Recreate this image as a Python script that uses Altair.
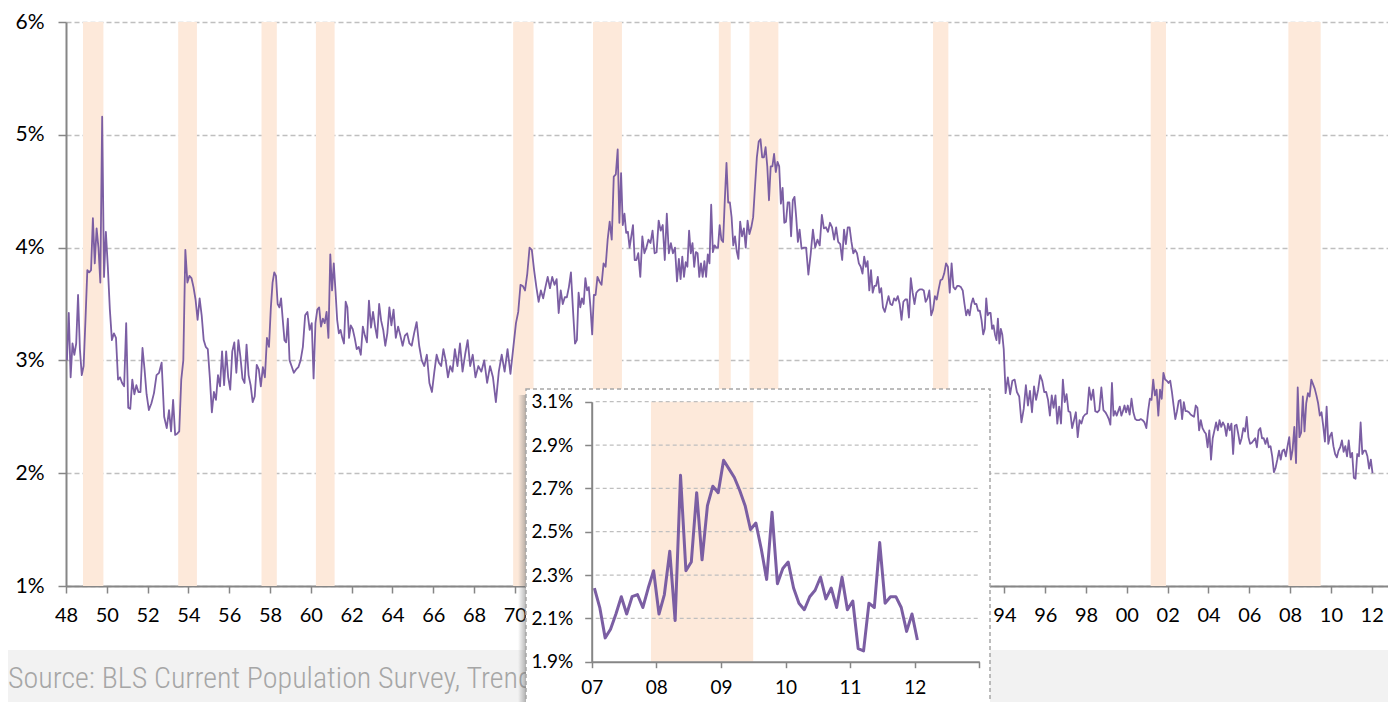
import altair as alt
import pandas as pd

# ---------------- data ----------------
# values observed within each calendar year, in order
y1948_1959 = [
    [3.0, 3.42, 2.85, 3.15, 3.05, 3.15, 3.58, 3.1, 2.87, 2.95, 3.36],
    [3.8, 3.78, 3.8, 4.26, 3.86, 4.17, 4.0, 3.69, 5.16, 3.74, 4.14],
    [3.83, 3.45, 3.18, 3.24, 3.2, 2.83, 2.85, 2.8, 2.77, 3.33],
    [2.58, 2.57, 2.83, 2.7, 2.78, 2.72, 2.72, 3.11, 2.92, 2.7],
    [2.56, 2.62, 2.71, 2.87, 2.89, 2.98, 2.5, 2.4],
    [2.56, 2.37, 2.65, 2.34, 2.35, 2.37, 2.83, 3.0, 3.98, 3.69],
    [3.75, 3.73, 3.65, 3.54, 3.36, 3.55, 3.4, 3.18, 3.12, 3.1],
    [2.85, 2.54, 2.72, 2.65, 2.87, 2.77, 3.08, 2.78, 3.08, 2.85],
    [2.74, 3.08, 3.16, 2.89, 3.18, 3.03, 2.84, 2.8, 3.14, 2.87],
    [2.78, 2.63, 2.68, 2.96, 2.92, 2.77, 2.94, 2.85, 3.2, 3.12],
    [3.47, 3.69, 3.78, 3.75, 3.5, 3.47, 3.55, 3.36, 3.18, 3.16, 3.37, 3.0],
    [2.95, 2.89, 2.92, 2.94, 3.0, 3.12, 3.4, 3.43, 3.27],
]
y1960_1969 = [
    [3.33, 2.84, 3.33, 3.45, 3.47, 3.3, 3.37, 3.33, 3.43, 3.2, 3.94],
    [3.62, 3.86, 3.62, 3.36, 3.24, 3.27, 3.2, 3.15, 3.52, 3.47, 3.2, 3.31],
    [3.28, 3.2, 3.1, 3.12, 3.05, 3.3, 3.22, 3.16, 3.53, 3.29],
    [3.43, 3.3, 3.2, 3.5, 3.35, 3.27, 3.13, 3.24, 3.47, 3.31],
    [3.45, 3.2, 3.3, 3.22, 3.13, 3.22, 3.24, 3.15, 3.13],
    [3.24, 3.34, 3.13, 3.0, 2.95, 3.05, 2.8, 2.72],
    [2.9, 3.05, 2.98, 2.95, 3.1, 3.0, 2.85, 2.95, 2.9],
    [3.1, 2.95, 3.15, 2.9, 3.05, 3.18, 2.95, 3.05],
    [2.85, 2.95, 2.9, 3.0, 2.8, 2.95, 2.85],
    [2.63, 2.9, 3.05, 2.9, 3.1, 2.88, 3.12],
]
y1970_1979 = [
    [3.33, 3.43, 3.67, 3.66, 3.62, 3.77, 4.0, 3.98, 3.8],
    [3.65, 3.52, 3.62, 3.55, 3.65, 3.74, 3.64, 3.74, 3.67],
    [3.72, 3.42, 3.62, 3.5, 3.56, 3.56, 3.65, 3.78, 3.45, 3.15],
    [3.18, 3.6, 3.47, 3.55, 3.5, 3.73, 3.62, 3.65, 3.47, 3.23, 3.58, 3.58],
    [3.74, 3.7, 3.67, 3.86, 3.83, 4.07, 4.23, 4.07, 4.63, 4.65],
    [4.87, 4.22, 4.66, 4.2, 4.3, 4.13, 4.14, 4.0, 4.1, 4.2, 3.89, 3.89],
    [3.95, 3.74, 4.1, 3.95, 4.0, 4.07, 4.04, 4.15, 3.95, 3.96],
    [4.24, 4.15, 4.2, 3.89, 4.3, 3.95, 4.04, 3.95, 4.0, 3.7],
    [3.9, 3.72, 3.92, 3.74, 3.87, 3.83, 4.15, 3.95, 4.04, 3.83, 3.96, 3.95],
    [3.74, 3.86, 3.74, 3.88, 3.74, 3.94, 3.86, 4.38, 3.96, 4.02, 4.0, 4.0],
]
y1980_1989 = [
    [4.2, 4.07, 4.05, 4.42, 4.75, 4.4, 4.4, 4.27, 4.02, 4.1, 3.97, 3.9],
    [4.23, 4.1, 4.17, 4.0, 4.24, 4.12, 4.18, 4.27, 4.54, 4.8, 4.94],
    [4.96, 4.8, 4.8, 4.89, 4.72, 4.42, 4.72, 4.72, 4.83, 4.67, 4.76, 4.72],
    [4.39, 4.53, 4.22, 4.23, 4.4, 4.4, 4.1, 4.42, 4.45, 4.27, 4.05, 4.16],
    [3.99, 4.0, 4.0, 3.76, 3.94, 4.16, 4.0, 4.07, 4.02],
    [4.29, 4.17, 4.18, 4.14, 4.22, 4.18, 4.07, 4.18, 4.05, 4.03],
    [3.89, 4.16, 4.03, 4.18, 4.18, 4.05, 3.95, 3.98, 3.95, 3.86, 3.83],
    [3.77, 3.92, 3.83, 3.88, 3.62, 3.8, 3.6, 3.66, 3.66, 3.74, 3.6, 3.64],
    [3.47, 3.43, 3.5, 3.57, 3.5, 3.49, 3.55, 3.53, 3.57, 3.5, 3.36],
    [3.52, 3.54, 3.54, 3.38, 3.73, 3.6, 3.5, 3.6, 3.62, 3.63, 3.63],
]
y1990_1999 = [
    [3.62, 3.52, 3.55, 3.62, 3.4, 3.45, 3.57, 3.54, 3.63, 3.71, 3.72],
    [3.77, 3.86, 3.83, 3.6, 3.86, 3.65, 3.63, 3.66, 3.66, 3.65, 3.62],
    [3.5, 3.4, 3.45, 3.4, 3.5, 3.55, 3.5, 3.5, 3.44, 3.44, 3.36, 3.23],
    [3.28, 3.55, 3.4, 3.42, 3.42, 3.28, 3.31, 3.23, 3.18, 3.37, 3.15, 3.28, 3.23, 3.1],
    [2.71, 2.85, 2.7, 2.82, 2.83, 2.72, 2.68, 2.45, 2.57],
    [2.78, 2.6, 2.73, 2.54, 2.77, 2.65, 2.74, 2.87, 2.82, 2.72],
    [2.72, 2.65, 2.51, 2.69, 2.58, 2.69, 2.44, 2.59, 2.44, 2.83, 2.63],
    [2.7, 2.55, 2.54, 2.4, 2.47, 2.54, 2.32, 2.47, 2.44, 2.5, 2.52],
    [2.53, 2.76, 2.65, 2.74, 2.55, 2.54, 2.56, 2.76, 2.56, 2.54],
    [2.51, 2.48, 2.43, 2.8, 2.51, 2.55, 2.51, 2.55, 2.59, 2.51, 2.55, 2.6, 2.54],
]
y2000_2006 = [
    [2.6, 2.52, 2.66, 2.54, 2.48, 2.47, 2.47, 2.48, 2.47, 2.45, 2.4],
    [2.55, 2.66, 2.65, 2.83, 2.69, 2.74, 2.51, 2.74, 2.66, 2.89, 2.83, 2.82],
    [2.8, 2.82, 2.72, 2.6, 2.48, 2.55, 2.64, 2.65, 2.48, 2.63, 2.55, 2.55],
    [2.54, 2.52, 2.51, 2.5, 2.6, 2.58, 2.38, 2.47, 2.4, 2.37, 2.35, 2.23],
    [2.38, 2.12, 2.31, 2.38, 2.45, 2.38, 2.47, 2.41, 2.45, 2.42, 2.33, 2.44],
    [2.38, 2.44, 2.17, 2.42, 2.43, 2.35, 2.26, 2.31, 2.4, 2.37, 2.5, 2.32],
    [2.26, 2.27, 2.29, 2.31, 2.23, 2.38, 2.4, 2.31, 2.31, 2.26, 2.31, 2.23],
]
# monthly values (inset)
m2007 = [2.24, 2.15, 2.01, 2.05, 2.12, 2.20, 2.12, 2.20, 2.21, 2.15, 2.24, 2.32]
m2008 = [2.12, 2.21, 2.41, 2.09, 2.76, 2.32, 2.36, 2.68, 2.37, 2.62, 2.71, 2.68]
m2009 = [2.83, 2.79, 2.75, 2.69, 2.62, 2.51, 2.54, 2.42, 2.28, 2.59, 2.26, 2.33]
m2010 = [2.36, 2.24, 2.17, 2.14, 2.20, 2.23, 2.29, 2.19, 2.24, 2.15, 2.29, 2.14]
m2011 = [2.18, 1.96, 1.95, 2.17, 2.15, 2.45, 2.17, 2.20, 2.20, 2.15, 2.04, 2.12]
m2012 = [2.00]

# recessions (decimal years)
rec_start = [1948.833, 1953.5, 1957.583, 1960.25, 1969.917, 1973.833,
             1980.0, 1981.5, 1990.5, 2001.167, 2007.917]
rec_end = [1949.833, 1954.417, 1958.333, 1961.167, 1970.917, 1975.25,
           1980.583, 1982.917, 1991.25, 2001.917, 2009.5]

main_y_ticks = [1, 2, 3, 4, 5, 6]
main_x_ticks = list(range(1948, 2013, 2))
inset_y_ticks = [1.9, 2.1, 2.3, 2.5, 2.7, 2.9, 3.1]
inset_x_ticks = [2007, 2008, 2009, 2010, 2011, 2012, 2013]
SOURCE = "Source: BLS Current Population Survey, Trend"

# ---------------- build tables ----------------
rows = []
for start, block in [(1948, y1948_1959), (1960, y1960_1969), (1970, y1970_1979),
                     (1980, y1980_1989), (1990, y1990_1999), (2000, y2000_2006)]:
    for k, vals in enumerate(block):
        n = len(vals)
        for i, v in enumerate(vals):
            rows.append({"date": start + k + (i + 0.5) / n, "value": v})
for yr, vals in [(2007, m2007), (2008, m2008), (2009, m2009), (2010, m2010),
                 (2011, m2011), (2012, m2012)]:
    for i, v in enumerate(vals):
        rows.append({"date": yr + (i + 0.5) / 12, "value": v})
df = pd.DataFrame(rows)
inset_df = df[df["date"] >= 2007].copy()
rec_df = pd.DataFrame({"start": rec_start, "end": rec_end})
inset_rec_df = rec_df[rec_df["end"] > 2007].copy()
grid_df = pd.DataFrame({"tick": inset_y_ticks[1:]})
src_df = pd.DataFrame({"label": [SOURCE]})
one = alt.Data(values=[{"k": 0}])

# ---------------- layout / style ----------------
W, H = 1322, 564
IX0, IX1 = 525.7, 913.3       # inset plot x range (px)
IY0, IY1 = 379.7, 639.7       # inset plot y range (top, bottom)
BX0, BX1, BY0, BY1 = 460, 924, 367, 730   # inset frame
PURPLE = "#7b5ea3"
SHADE = "#fde9da"
GRID = "#bfbfbf"
AX = "#868686"
FONT = "Lato"

twodig = "(datum.value % 100 < 10 ? '0' : '') + (datum.value % 100)"
# labels 72..92 sit under the inset frame and are not visible in the original
main_xlab = "(datum.value > 1971 && datum.value < 1993) ? '' : " + twodig

main_x = alt.Scale(domain=[1948, 2012.8], nice=False, zero=False)
main_y = alt.Scale(domain=[1, 6], nice=False, zero=False)
inset_x = alt.Scale(domain=[2007, 2013], range=[IX0, IX1], nice=False, zero=False)
inset_y = alt.Scale(domain=[1.9, 3.1], range=[IY1, IY0], nice=False, zero=False)

rec = alt.Chart(rec_df).mark_rect(color=SHADE).encode(
    x=alt.X("start:Q", scale=main_x, axis=None),
    x2="end:Q",
    y=alt.value(0), y2=alt.value(H),
)

main_line = alt.Chart(df).mark_line(color=PURPLE, strokeWidth=1.8, strokeJoin="round").encode(
    x=alt.X("date:Q", scale=main_x, axis=alt.Axis(
        values=main_x_ticks, labelExpr=main_xlab, title=None, grid=False,
        domainColor=AX, domainWidth=2, tickColor=AX, tickWidth=1.5, tickSize=7,
        labelFontSize=20, labelFont=FONT, labelColor="#000000", labelPadding=12,
        labelFlush=False, labelOverlap=False)),
    y=alt.Y("value:Q", scale=main_y, axis=alt.Axis(
        values=main_y_ticks, labelExpr="datum.value + '%'", title=None, grid=True,
        gridDash=[5, 3], gridColor=GRID, gridWidth=1.3,
        domainColor=AX, domainWidth=2, tickColor=AX, tickWidth=1.5, tickSize=8,
        labelFontSize=21, labelFont=FONT, labelColor="#000000", labelPadding=14,
        labelOverlap=False)),
)

band = alt.Chart(one).mark_rect(color="#f2f2f2").encode(
    x=alt.value(-60), x2=alt.value(W + 20), y=alt.value(628), y2=alt.value(700))

src = alt.Chart(src_df).mark_text(
    align="left", baseline="alphabetic", fontSize=30, fontWeight=300,
    font="Roboto Condensed, Liberation Sans Narrow, Arial Narrow, Roboto",
    color="#a6a6a6").encode(x=alt.value(-58), y=alt.value(666), text="label:N")

shadow = alt.Chart(one).mark_rect(
    fill=alt.LinearGradient(gradient="linear", x1=0, x2=1, y1=0, y2=0, stops=[
        alt.GradientStop(color="rgba(110,110,110,0)", offset=0),
        alt.GradientStop(color="rgba(110,110,110,0.5)", offset=1)])
).encode(x=alt.value(BX0 - 8), x2=alt.value(BX0), y=alt.value(BY0 + 6), y2=alt.value(BY1))

box = alt.Chart(one).mark_rect(fill="white", stroke="#a6a6a6", strokeDash=[4, 3],
                               strokeWidth=1.5).encode(
    x=alt.value(BX0), x2=alt.value(BX1), y=alt.value(BY0), y2=alt.value(BY1))

inset_rec = alt.Chart(inset_rec_df).mark_rect(color=SHADE).encode(
    x=alt.X("start:Q", scale=inset_x, axis=None), x2="end:Q",
    y=alt.value(IY0), y2=alt.value(IY1))

inset_grid = alt.Chart(grid_df).mark_rule(color=GRID, strokeDash=[4, 3], strokeWidth=1.3).encode(
    y=alt.Y("tick:Q", scale=inset_y, axis=None),
    x=alt.value(IX0 + 4), x2=alt.value(IX1))

inset_line = alt.Chart(inset_df).mark_line(color=PURPLE, strokeWidth=3, strokeJoin="round").encode(
    x=alt.X("date:Q", scale=inset_x, axis=alt.Axis(
        orient="bottom", offset=IY1 - H, values=inset_x_ticks,
        labelExpr="datum.value >= 2013 ? '' : " + twodig, title=None, grid=False,
        domainColor=AX, domainWidth=2, tickColor=AX, tickWidth=1.5, tickSize=6,
        labelFontSize=19, labelFont=FONT, labelColor="#000000", labelPadding=11,
        labelFlush=False, labelOverlap=False, zindex=1)),
    y=alt.Y("value:Q", scale=inset_y, axis=alt.Axis(
        orient="left", offset=-IX0, values=inset_y_ticks,
        labelExpr="format(datum.value, '.1f') + '%'", title=None, grid=False,
        domainColor=AX, domainWidth=2, tickColor=AX, tickWidth=1.5, tickSize=7,
        labelFontSize=19, labelFont=FONT, labelColor="#000000", labelPadding=12,
        labelOverlap=False, zindex=1)),
)

chart = alt.layer(
    rec, main_line, band, src, shadow, box, inset_rec, inset_grid, inset_line
).resolve_scale(x="independent", y="independent").properties(
    width=W, height=H,
    padding={"left": 58, "top": 14, "right": 0, "bottom": 116},
    autosize=alt.AutoSizeParams(type="none"),
).configure_view(stroke=None)

chart.save("out.html", embed_options={"renderer": "svg", "actions": False})
